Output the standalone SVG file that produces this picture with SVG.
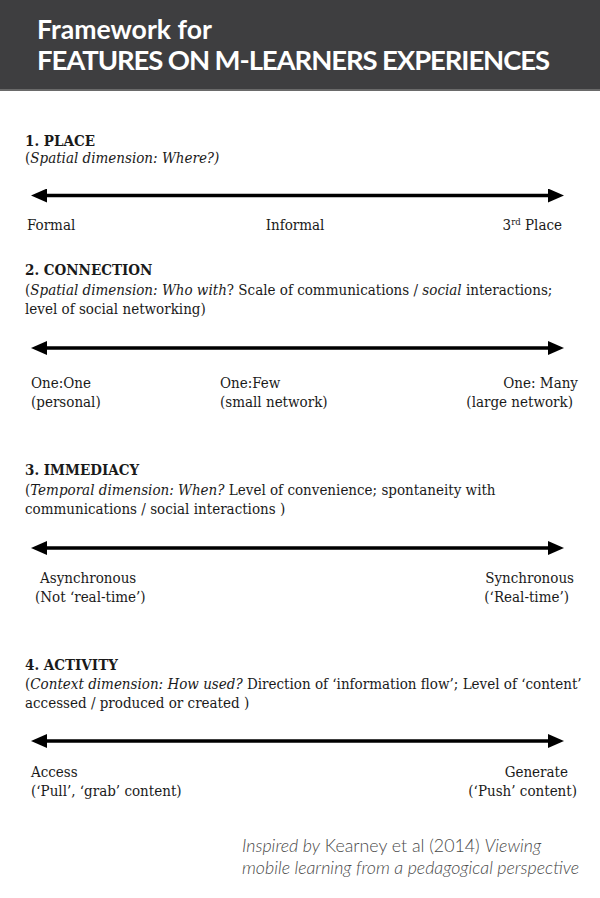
<svg xmlns="http://www.w3.org/2000/svg" width="600" height="898" viewBox="0 0 600 898">
<style>
.t{font-family:"DejaVu Serif",serif;font-stretch:condensed;fill:#1a1a1a;font-size:15px}
.h{font-weight:bold}
.i{font-style:italic}
.ttl{font-family:Lato,"Open Sans",sans-serif;font-weight:bold;fill:#fff}
.ft{font-family:Lato,"Open Sans",sans-serif;font-size:17.8px;fill:#4a4a4a;font-weight:300}
.ax{stroke:#000;stroke-width:3.5}
</style>
<defs>
<marker id="ah" viewBox="0 0 10 10" refX="0" refY="5" markerWidth="16" markerHeight="14" markerUnits="userSpaceOnUse" orient="auto-start-reverse" preserveAspectRatio="none">
<path d="M0,0L10,5L0,10Z" fill="#000"/>
</marker>
</defs>
<rect width="600" height="898" fill="#fff"/>
<g id="header">
<rect x="0" y="0" width="600" height="90" fill="#3e3e40"/>
<rect x="0" y="89" width="600" height="2" fill="#6a6a6a"/>
<text class="ttl" x="37" y="39" font-size="26.6">Framework for</text>
<text class="ttl" x="37" y="70" font-size="27.5" letter-spacing="-1.1">FEATURES ON M-LEARNERS EXPERIENCES</text>
</g>
<g id="connectors">
<line class="ax" x1="47" y1="195.5" x2="548" y2="195.5" marker-start="url(#ah)" marker-end="url(#ah)"/>
<line class="ax" x1="47" y1="348" x2="548" y2="348" marker-start="url(#ah)" marker-end="url(#ah)"/>
<line class="ax" x1="47" y1="548" x2="548" y2="548" marker-start="url(#ah)" marker-end="url(#ah)"/>
<line class="ax" x1="47" y1="741" x2="548" y2="741" marker-start="url(#ah)" marker-end="url(#ah)"/>
</g>
<g id="place">
<text class="t h" x="25" y="145.5">1. PLACE</text>
<text class="t" x="25" y="162.5">(<tspan class="i">Spatial dimension: Where?)</tspan></text>
<text class="t" x="27" y="230">Formal</text>
<text class="t" x="295" y="230" text-anchor="middle">Informal</text>
<text class="t" x="562" y="230" text-anchor="end">3<tspan font-size="9.5" dy="-5">rd</tspan><tspan dy="5"> Place</tspan></text>
</g>
<g id="connection">
<text class="t h" x="25" y="275">2. CONNECTION</text>
<text class="t" x="25" y="294.5">(<tspan class="i">Spatial dimension: Who with</tspan>? Scale of communications / <tspan class="i">social</tspan> interactions;</text>
<text class="t" x="25" y="313.5">level of social networking)</text>
<text class="t" x="31" y="388">One:One</text>
<text class="t" x="31" y="407">(personal)</text>
<text class="t" x="220" y="388">One:Few</text>
<text class="t" x="220" y="407">(small network)</text>
<text class="t" x="578" y="388" text-anchor="end">One: Many</text>
<text class="t" x="573" y="407" text-anchor="end">(large network)</text>
</g>
<g id="immediacy">
<text class="t h" x="25" y="475">3. IMMEDIACY</text>
<text class="t" x="25" y="494.5">(<tspan class="i">Temporal dimension: When?</tspan> Level of convenience; spontaneity with</text>
<text class="t" x="25" y="513.5">communications / social interactions )</text>
<text class="t" x="40" y="583">Asynchronous</text>
<text class="t" x="35" y="602">(Not ‘real-time’)</text>
<text class="t" x="574" y="583" text-anchor="end">Synchronous</text>
<text class="t" x="569" y="602" text-anchor="end">(‘Real-time’)</text>
</g>
<g id="activity">
<text class="t h" x="25" y="669.5">4. ACTIVITY</text>
<text class="t" x="25" y="689">(<tspan class="i">Context dimension: How used?</tspan> Direction of ‘information flow’; Level of ‘content’</text>
<text class="t" x="25" y="708">accessed / produced or created )</text>
<text class="t" x="31" y="777">Access</text>
<text class="t" x="31" y="795.5">(‘Pull’, ‘grab’ content)</text>
<text class="t" x="568" y="777" text-anchor="end">Generate</text>
<text class="t" x="577" y="795.5" text-anchor="end">(‘Push’ content)</text>
</g>
<g id="credit">
<text class="ft" x="242" y="852"><tspan font-style="italic">Inspired by</tspan> Kearney et al (2014) <tspan font-style="italic">Viewing</tspan></text>
<text class="ft" x="242" y="874" font-style="italic">mobile learning from a pedagogical perspective</text>
</g>
</svg>
